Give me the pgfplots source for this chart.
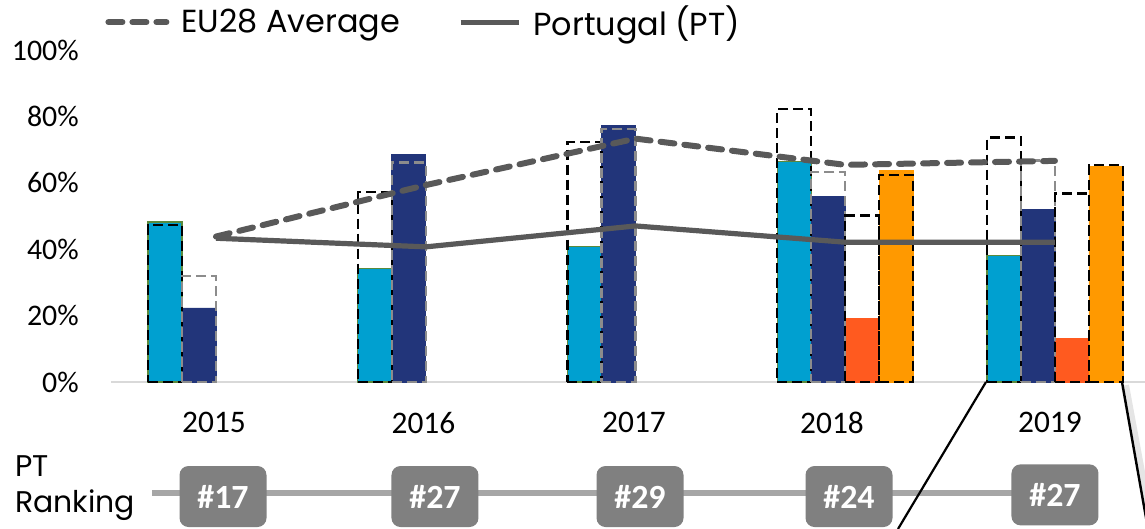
\documentclass[border=0pt]{standalone}
\usepackage{fontspec}
\setmainfont{Carlito}
\newfontfamily\gothic{Poppins}
\usepackage{pgfplots}
\pgfplotsset{compat=1.18}
\definecolor{cCyan}{HTML}{00A0D0}
\definecolor{cNavy}{HTML}{22357A}
\definecolor{cRed}{HTML}{FF5A1F}
\definecolor{cOrange}{HTML}{FF9900}
\definecolor{cLine}{HTML}{595959}
\definecolor{cEdge}{HTML}{5B8A3C}
\definecolor{cAxis}{HTML}{D9D9D9}
\definecolor{cBox}{HTML}{808080}
\definecolor{cRank}{HTML}{A6A6A6}
\definecolor{cGrayDash}{HTML}{8C8C8C}
\begin{document}
\begin{tikzpicture}
\begin{axis}[
  x=104.875bp, y=1.66bp,
  xmin=-0.5, xmax=4.4291, ymin=0, ymax=100,
  clip=false,
  axis x line*=bottom, axis y line*=left,
  axis line style={-},
  y axis line style={draw=none},
  x axis line style={draw=cAxis, line width=1.2bp},
  major tick length=0pt,
  ytick={0,20,40,60,80,100},
  yticklabels={0\%,20\%,40\%,60\%,80\%,100\%},
  yticklabel style={font=\fontsize{15}{18}\selectfont, anchor=east, inner sep=0pt, xshift=-16bp},
  xtick={-0.0095,0.989,1.993,2.937,3.976},
  xticklabels={2015,2016,2017,2018,2019},
  xticklabel style={font=\fontsize{15.75}{18}\selectfont, anchor=north, inner sep=0pt, yshift=-14.8bp},
  legend style={draw=none, fill=none, inner sep=0pt,
    at={(axis description cs:-0.0059,1.084)}, anchor=west,
    font=\gothic\fontsize{16}{19}\selectfont,
    /tikz/every odd column/.append style={column sep=4bp},
    /tikz/every even column/.append style={column sep=27bp}},
  legend columns=2,
  legend cell align=left,
  legend image code/.code={\draw[#1] (0bp,0bp) -- (29bp,0bp);},
]
% bars
\addplot[ybar, bar width=17bp, bar shift=-25.5bp, fill=cCyan, draw=cEdge, line width=0.6bp, forget plot]
  coordinates {(0,48.2) (1,34.3) (2,40.8) (3,66.4) (4,38.0)};
\addplot[ybar, bar width=17bp, bar shift=-8.5bp, fill=cNavy, draw=cNavy, line width=0.4bp, forget plot]
  coordinates {(0,22.3) (1,68.4) (2,77.2) (3,55.8) (4,52.0)};
\addplot[ybar, bar width=17bp, bar shift=8.5bp, fill=cRed, draw=cRed, line width=0.4bp, forget plot]
  coordinates {(3,19.2) (4,13.2)};
\addplot[ybar, bar width=17bp, bar shift=25.5bp, fill=cOrange, draw=cOrange, line width=0.4bp, forget plot]
  coordinates {(3,63.6) (4,64.8)};
% EU28 outline bars
\addplot[ybar, bar width=17bp, bar shift=-25.5bp, fill=none, draw=black, line width=1.2bp, dash pattern=on 5bp off 2.5bp, forget plot]
  coordinates {(0,47.3) (1,57.3) (2,72.2) (3,82.2) (4,73.7)};
\addplot[ybar, bar width=17bp, bar shift=-8.5bp, fill=none, draw=cGrayDash, line width=1.2bp, dash pattern=on 5bp off 2.5bp, forget plot]
  coordinates {(0,31.9) (1,66.1) (2,76.2) (3,63.3) (4,66.7)};
\addplot[ybar, bar width=17bp, bar shift=8.5bp, fill=none, draw=black, line width=1.2bp, dash pattern=on 5bp off 2.5bp, forget plot]
  coordinates {(3,50.1) (4,56.8)};
\addplot[ybar, bar width=17bp, bar shift=25.5bp, fill=none, draw=black, line width=1.2bp, dash pattern=on 5bp off 2.5bp, forget plot]
  coordinates {(3,62.3) (4,65.4)};
% lines
\addplot[cLine, line width=3bp, dash pattern=on 7bp off 5bp, line cap=round, mark=none]
  coordinates {(0,43.8) (1,59.3) (2,73.3) (3,65.4) (4,66.6)};
\addlegendentry{EU28 Average}
\addplot[cLine, line width=2.6bp, mark=none]
  coordinates {(0,43.3) (1,40.7) (2,47.0) (3,42.1) (4,42.1)};
\addlegendentry{Portugal (PT)}
% ranking row
\addplot[cRank, line width=3bp, mark=none, forget plot]
  coordinates {(-0.305,-33.4) (4,-33.4)};
\tikzset{rk/.style={fill=cBox, rounded corners=4.5bp, minimum width=43.5bp, minimum height=30.5bp,
  text=white, font=\bfseries\fontsize{17}{20}\selectfont, inner sep=0pt}}
\node[rk] at (axis cs:0.0334,-34.5) {\#17};
\node[rk] at (axis cs:1.0441,-34.5) {\#27};
\node[rk] at (axis cs:2.0215,-34.5) {\#29};
\node[rk] at (axis cs:3.018,-34.5) {\#24};
\node[rk] at (axis cs:4.0,-34.0) {\#27};
\node[anchor=base west, inner sep=0pt, font=\gothic\fontsize{15}{18}\selectfont] at (axis cs:-0.9583,-28.61) {PT};
\node[anchor=base west, inner sep=0pt, font=\gothic\fontsize{15}{18}\selectfont] at (axis cs:-0.9583,-39.46) {Ranking};
% callout lines
\draw[black, line width=1.1bp] (axis cs:3.671,0) -- (axis cs:3.2515,-44.28);
\draw[black!20, line width=4bp, opacity=0.5] (axis cs:4.334,-1) -- (axis cs:4.46,-44.28);
\draw[black, line width=1.2bp] (axis cs:4.3195,0) -- (axis cs:4.4434,-44.28);
\coordinate (bbA) at (axis cs:-1.0298,115.06);
\coordinate (bbB) at (axis cs:4.4291,-44.28);
\end{axis}
\pgfresetboundingbox
\path[use as bounding box] (bbA) rectangle (bbB);
\end{tikzpicture}
\end{document}
